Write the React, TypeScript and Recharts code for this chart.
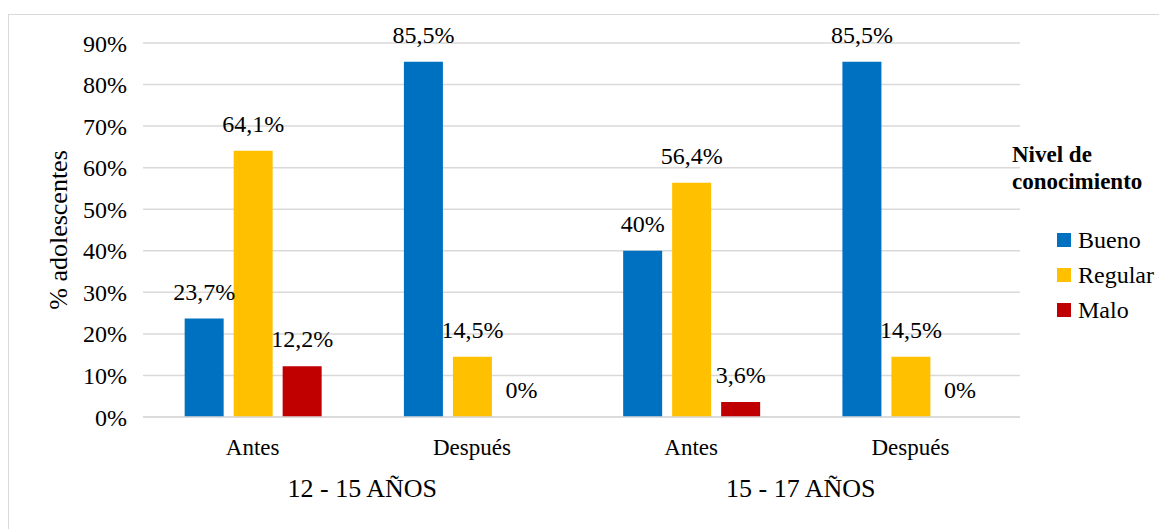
import React from "react";
import { BarChart, Bar, XAxis, YAxis, CartesianGrid, LabelList, Label } from "recharts";

const categories = ["Antes", "Después", "Antes", "Después"];
const groups = ["12 - 15 AÑOS", "12 - 15 AÑOS", "15 - 17 AÑOS", "15 - 17 AÑOS"];
const bueno = [23.7, 85.5, 40, 85.5];
const regular = [64.1, 14.5, 56.4, 14.5];
const malo = [12.2, 0, 3.6, 0];
const yTicks = [0, 10, 20, 30, 40, 50, 60, 70, 80, 90];

const series = [
  { key: "bueno", name: "Bueno", color: "#0070C0" },
  { key: "regular", name: "Regular", color: "#FFC000" },
  { key: "malo", name: "Malo", color: "#C00000" },
];

const data = categories.map((c, i) => ({
  cat: c,
  group: groups[i],
  bueno: bueno[i],
  regular: regular[i],
  malo: malo[i],
}));

const FONT = "Liberation Serif";

const fmt = (v: any) => {
  const n = Number(v);
  return (Number.isInteger(n) ? String(n) : String(n).replace(".", ",")) + "%";
};

const ValueLabel = (props: any) => {
  const { x, y, width, value } = props;
  if (value == null) return null;
  return (
    <text
      x={Number(x) + Number(width) / 2}
      y={Number(y) - 19}
      textAnchor="middle"
      fontSize={24}
      fontFamily={FONT}
      fill="#000"
    >
      {fmt(value)}
    </text>
  );
};

export default function App() {
  return (
    <div
      style={{
        position: "relative",
        marginTop: 6,
        width: 1170,
        height: 530,
        border: "1px solid #d9d9d9",
        fontFamily: FONT,
        background: "#fff",
      }}
    >
      <BarChart
        width={1150}
        height={514}
        data={data}
        margin={{ top: 28, right: 139, left: 0, bottom: 20 }}
        barCategoryGap="19%"
        barGap={10}
        style={{ fontFamily: FONT }}
      >
        <CartesianGrid vertical={false} stroke="#d9d9d9" strokeWidth={1.5} />
        <XAxis
          dataKey="cat"
          xAxisId={0}
          height={50}
          tickLine={false}
          tickSize={0}
          tickMargin={22}
          axisLine={{ stroke: "#d9d9d9", strokeWidth: 1.5 }}
          tick={{ fill: "#000", fontSize: 23, fontFamily: FONT }}
          interval={0}
        />
        <XAxis
          dataKey="group"
          xAxisId="grp"
          allowDuplicatedCategory={false}
          height={42}
          tickLine={false}
          tickSize={0}
          tickMargin={12}
          axisLine={false}
          tick={{ fill: "#000", fontSize: 26, fontFamily: FONT }}
          interval={0}
        />
        <YAxis
          width={134}
          domain={[0, 90]}
          ticks={yTicks}
          tickFormatter={(v) => `${v}%`}
          axisLine={false}
          tickLine={false}
          tickSize={0}
          tickMargin={16}
          tick={{ fill: "#000", fontSize: 24, fontFamily: FONT }}
        >
          <Label
            content={(props: any) => {
              const vb = props.viewBox || { x: 0, y: 28, width: 134, height: 374 };
              const x = vb.x + 49;
              const y = vb.y + vb.height / 2;
              return (
                <text
                  x={x}
                  y={y}
                  transform={`rotate(-90, ${x}, ${y})`}
                  textAnchor="middle"
                  dominantBaseline="central"
                  fontSize={26}
                  fontFamily={FONT}
                  fill="#000"
                >
                  % adolescentes
                </text>
              );
            }}
          />
        </YAxis>
        {series.map((s) => (
          <Bar
            key={s.key}
            dataKey={s.key}
            name={s.name}
            fill={s.color}
            isAnimationActive={false}
            minPointSize={(v: any) => (Number(v) === 0 ? 0.01 : 0)}
          >
            <LabelList dataKey={s.key} content={ValueLabel} />
          </Bar>
        ))}
      </BarChart>
      <div style={{ position: "absolute", left: 1003, top: 126, color: "#000", fontFamily: FONT }}>
        <div style={{ fontWeight: "bold", fontSize: 23, lineHeight: "27px", whiteSpace: "nowrap", fontFamily: FONT }}>
          Nivel de
          <br />
          conocimiento
        </div>
      </div>
      {series.map((s, i) => (
        <div
          key={s.key}
          style={{
            position: "absolute",
            left: 1048,
            top: 225 + i * 35 - 14,
            height: 28,
            display: "flex",
            alignItems: "center",
            fontSize: 24,
            color: "#000",
            whiteSpace: "nowrap",
            fontFamily: FONT,
          }}
        >
          <span style={{ display: "inline-block", width: 14, height: 14, background: s.color, marginRight: 7 }} />
          <span style={{ fontFamily: FONT }}>{s.name}</span>
        </div>
      ))}
    </div>
  );
}
